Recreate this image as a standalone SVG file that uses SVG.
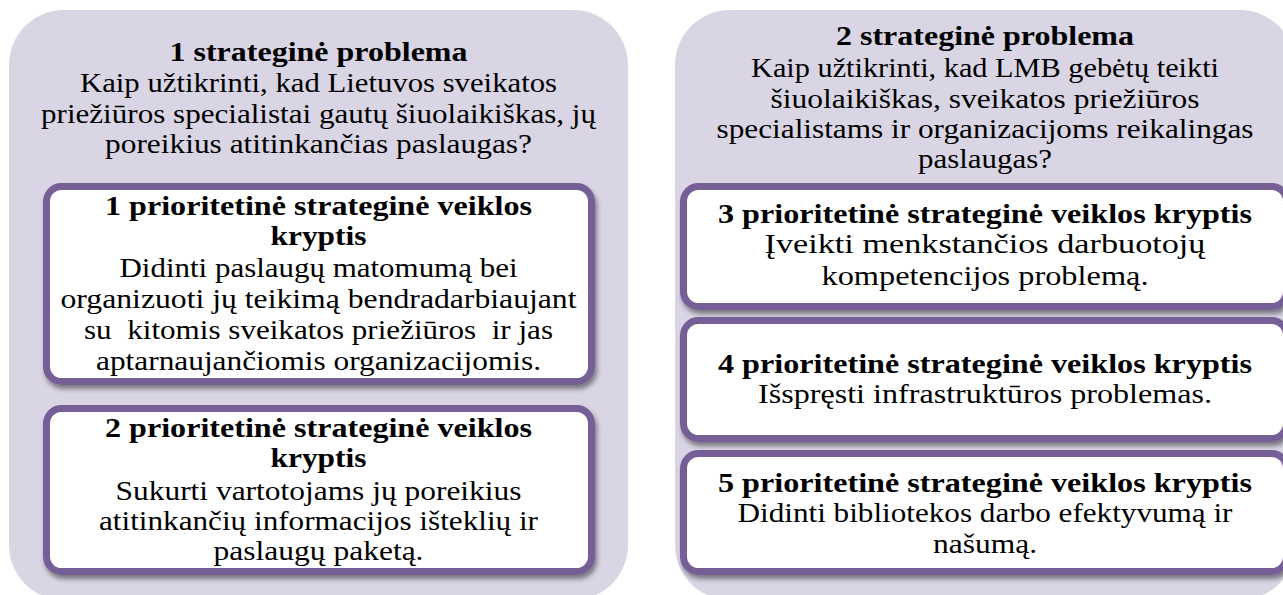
<svg xmlns="http://www.w3.org/2000/svg" width="1283" height="595" viewBox="0 0 1283 595">
<defs>
<filter id="sh" x="-5%" y="-5%" width="115%" height="120%">
<feGaussianBlur in="SourceAlpha" stdDeviation="2.5"/>
<feOffset dx="2" dy="4" result="b"/>
<feComponentTransfer><feFuncA type="linear" slope="0.45"/></feComponentTransfer>
<feMerge><feMergeNode/><feMergeNode in="SourceGraphic"/></feMerge>
</filter>
</defs>
<style>
.panel{fill:#d9d5e4}
.box{fill:#ffffff;stroke:#765e97;stroke-width:7}
text{font-family:"Liberation Serif","DejaVu Serif",serif;font-size:28px;fill:#000;text-anchor:middle}
.b{font-weight:bold}
</style>
<g id="panel1">
<rect class="panel" x="9" y="10" width="619" height="590" rx="55"/>
<text class="b" x="318.5" y="61" textLength="298" lengthAdjust="spacingAndGlyphs">1 strateginė problema</text>
<text x="318.5" y="92" textLength="477" lengthAdjust="spacingAndGlyphs">Kaip užtikrinti, kad Lietuvos sveikatos</text>
<text x="318.5" y="123" textLength="555" lengthAdjust="spacingAndGlyphs">priežiūros specialistai gautų šiuolaikiškas, jų</text>
<text x="318.5" y="153" textLength="427" lengthAdjust="spacingAndGlyphs">poreikius atitinkančias paslaugas?</text>
</g>
<g id="panel2">
<rect class="panel" x="675" y="10" width="620" height="590" rx="55"/>
<text class="b" x="985" y="45" textLength="298" lengthAdjust="spacingAndGlyphs">2 strateginė problema</text>
<text x="985" y="77" textLength="468" lengthAdjust="spacingAndGlyphs">Kaip užtikrinti, kad LMB gebėtų teikti</text>
<text x="985" y="108" textLength="429" lengthAdjust="spacingAndGlyphs">šiuolaikiškas, sveikatos priežiūros</text>
<text x="985" y="138" textLength="537" lengthAdjust="spacingAndGlyphs">specialistams ir organizacijoms reikalingas</text>
<text x="985" y="168" textLength="134" lengthAdjust="spacingAndGlyphs">paslaugas?</text>
</g>
<g id="box1">
<rect class="box" x="46.5" y="186.5" width="545" height="195" rx="15" filter="url(#sh)"/>
<text class="b" x="318.5" y="215" textLength="427" lengthAdjust="spacingAndGlyphs">1 prioritetinė strateginė veiklos</text>
<text class="b" x="318.5" y="245" textLength="96" lengthAdjust="spacingAndGlyphs">kryptis</text>
<text x="318.5" y="277" textLength="398" lengthAdjust="spacingAndGlyphs">Didinti paslaugų matomumą bei</text>
<text x="318.5" y="308" textLength="516" lengthAdjust="spacingAndGlyphs">organizuoti jų teikimą bendradarbiaujant</text>
<text x="318.5" y="339" textLength="469" lengthAdjust="spacingAndGlyphs" xml:space="preserve">su  kitomis sveikatos priežiūros  ir jas</text>
<text x="318.5" y="370" textLength="445" lengthAdjust="spacingAndGlyphs">aptarnaujančiomis organizacijomis.</text>
</g>
<g id="box2">
<rect class="box" x="46.5" y="408.5" width="545" height="163" rx="15" filter="url(#sh)"/>
<text class="b" x="318.5" y="437" textLength="427" lengthAdjust="spacingAndGlyphs">2 prioritetinė strateginė veiklos</text>
<text class="b" x="318.5" y="467" textLength="96" lengthAdjust="spacingAndGlyphs">kryptis</text>
<text x="318.5" y="500" textLength="406" lengthAdjust="spacingAndGlyphs">Sukurti vartotojams jų poreikius</text>
<text x="318.5" y="530" textLength="439" lengthAdjust="spacingAndGlyphs">atitinkančių informacijos išteklių ir</text>
<text x="318.5" y="560" textLength="210" lengthAdjust="spacingAndGlyphs">paslaugų paketą.</text>
</g>
<g id="box3">
<rect class="box" x="683.5" y="186.5" width="603" height="120" rx="15" filter="url(#sh)"/>
<text class="b" x="985" y="223" textLength="534" lengthAdjust="spacingAndGlyphs">3 prioritetinė strateginė veiklos kryptis</text>
<text x="985" y="253" textLength="441" lengthAdjust="spacingAndGlyphs">Įveikti menkstančios darbuotojų</text>
<text x="985" y="285" textLength="327" lengthAdjust="spacingAndGlyphs">kompetencijos problemą.</text>
</g>
<g id="box4">
<rect class="box" x="683.5" y="320.5" width="603" height="118" rx="15" filter="url(#sh)"/>
<text class="b" x="985" y="373" textLength="534" lengthAdjust="spacingAndGlyphs">4 prioritetinė strateginė veiklos kryptis</text>
<text x="985" y="403" textLength="454" lengthAdjust="spacingAndGlyphs">Išspręsti infrastruktūros problemas.</text>
</g>
<g id="box5">
<rect class="box" x="683.5" y="453.5" width="603" height="118" rx="15" filter="url(#sh)"/>
<text class="b" x="985" y="492" textLength="534" lengthAdjust="spacingAndGlyphs">5 prioritetinė strateginė veiklos kryptis</text>
<text x="985" y="522" textLength="495" lengthAdjust="spacingAndGlyphs">Didinti bibliotekos darbo efektyvumą ir</text>
<text x="985" y="553" textLength="104" lengthAdjust="spacingAndGlyphs">našumą.</text>
</g>
<g id="connectors"/>
</svg>
